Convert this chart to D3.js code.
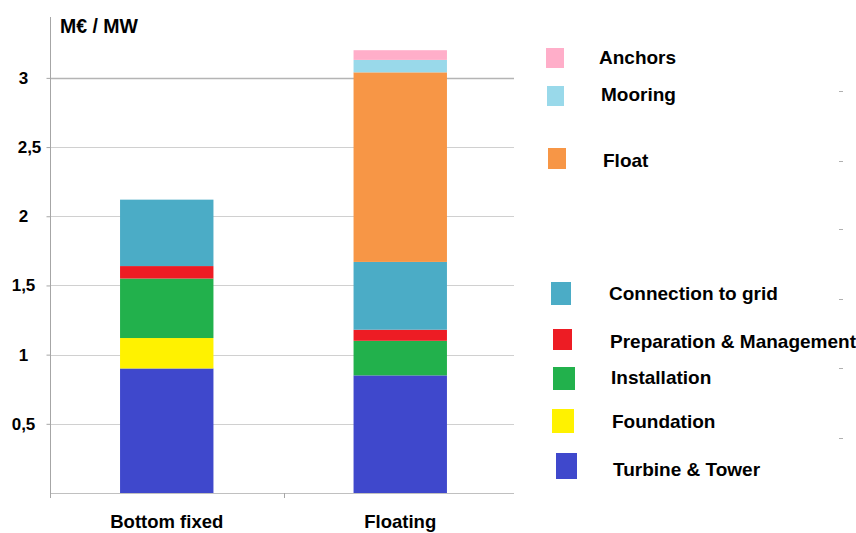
<!DOCTYPE html>
<html>
<head>
<meta charset="utf-8">
<script src="https://cdn.jsdelivr.net/npm/d3@7"></script>
<style>
  html, body { margin: 0; padding: 0; background: #fff; }
  svg { display: block; font-family: "Liberation Sans", Arial, sans-serif; }
</style>
</head>
<body>
<svg id="chart" width="856" height="533"></svg>
<script>
// Cost breakdown per concept, in M€ per MW
const categories = ["Bottom fixed", "Floating"];
const components = ["Turbine & Tower", "Foundation", "Installation", "Preparation & Management",
                    "Connection to grid", "Float", "Mooring", "Anchors"];
const turbineTower   = [0.90, 0.85];
const foundation     = [0.22, 0.00];
const installation   = [0.43, 0.25];
const preparation    = [0.09, 0.08];
const connectionGrid = [0.48, 0.49];
const floatCost      = [0.00, 1.37];
const mooring        = [0.00, 0.09];
const anchors        = [0.00, 0.07];
const yTicks = [0.5, 1, 1.5, 2, 2.5, 3];
const unitLabel = "M€ / MW";

const colors = ["#3f48cc", "#fff200", "#22b14c", "#ed1c24", "#4bacc6", "#f79646", "#99d9ea", "#ffaec9"];
const seriesValues = [turbineTower, foundation, installation, preparation, connectionGrid, floatCost, mooring, anchors];

const rows = categories.map((c, i) => {
  const r = { category: c };
  components.forEach((k, j) => { r[k] = seriesValues[j][i]; });
  return r;
});

const svg = d3.select("#chart");
const x = d3.scaleBand().domain(categories).range([50, 517]).paddingInner(0.6).paddingOuter(0.3);
const y = d3.scaleLinear().domain([0, 3.44]).range([493, 17]);
const color = d3.scaleOrdinal().domain(components).range(colors);

// Gridlines
svg.append("g").selectAll("line").data(yTicks).join("line")
  .attr("x1", 50).attr("x2", 514)
  .attr("y1", d => Math.round(y(d)) + 0.5).attr("y2", d => Math.round(y(d)) + 0.5)
  .attr("stroke", d => d === 3 ? "#b4b4b4" : "#d0d0d0").attr("stroke-width", d => d === 3 ? 1.5 : 1);

// Stacked bars
const stacked = d3.stack().keys(components)(rows);
svg.append("g").selectAll("g").data(stacked).join("g")
  .attr("fill", d => color(d.key))
  .selectAll("rect").data(d => d).join("rect")
  .attr("x", d => x(d.data.category))
  .attr("width", x.bandwidth())
  .attr("y", d => y(d[1]))
  .attr("height", d => Math.max(0, y(d[0]) - y(d[1])));

// Y axis
const fmt = d => String(d).replace(".", ",");
const yAxis = svg.append("g").attr("transform", "translate(50.5,0)")
  .call(d3.axisLeft(y).tickValues(yTicks).tickSize(4).tickPadding(0).tickFormat(fmt));
yAxis.select(".domain").remove();
yAxis.selectAll(".tick line").attr("stroke", "#a6a6a6");
yAxis.selectAll(".tick text")
  .attr("x", d => d === 2.5 ? -21 : -27)
  .attr("text-anchor", "middle")
  .attr("font-size", 17).attr("font-weight", "bold").attr("fill", "#000")
  .attr("font-family", "'Liberation Sans', Arial, sans-serif");
svg.append("line").attr("x1", 50.5).attr("x2", 50.5).attr("y1", 17).attr("y2", 498)
  .attr("stroke", "#a6a6a6");

// X axis baseline and band ticks
const xAxis = svg.append("g").attr("transform", `translate(0,${Math.round(y(0)) + 0.5})`)
  .call(d3.axisBottom(x).tickSize(0).tickFormat(""));
xAxis.select(".domain").attr("stroke", "#c0c0c0").attr("d", "M50,0H514");
const gap = (x.step() - x.bandwidth()) / 2;
const bandEdges = [x.range()[0], x(categories[1]) - gap];
svg.append("g").selectAll("line").data(bandEdges).join("line")
  .attr("x1", d => Math.round(d) + 0.5).attr("x2", d => Math.round(d) + 0.5)
  .attr("y1", y(0)).attr("y2", y(0) + 5).attr("stroke", "#a6a6a6");

// Category labels
svg.append("g").selectAll("text").data(categories).join("text")
  .attr("x", d => x(d) + x.bandwidth() / 2)
  .attr("y", 528)
  .attr("text-anchor", "middle")
  .attr("font-size", 18.5).attr("font-weight", "bold").attr("fill", "#000")
  .text(d => d);

// Unit label
svg.append("text").attr("x", 60).attr("y", 33)
  .attr("font-size", 19.5).attr("font-weight", "bold").attr("fill", "#000")
  .text(unitLabel);

// Faint ticks at the right margin
const rightTicks = [91, 161, 229, 299, 368, 438];
svg.append("g").selectAll("line").data(rightTicks).join("line")
  .attr("x1", 839).attr("x2", 843).attr("y1", d => d + 0.5).attr("y2", d => d + 0.5)
  .attr("stroke", "#b0b0b0");

// Legend (top to bottom: floating-only parts, then shared parts)
const legendLayout = [
  { key: "Anchors",                  sx: 546, sy: 48,  sw: 18, sh: 20, tx: 599, ty: 57 },
  { key: "Mooring",                  sx: 547, sy: 86,  sw: 17, sh: 20, tx: 601, ty: 94 },
  { key: "Float",                    sx: 548, sy: 148, sw: 18, sh: 21, tx: 603, ty: 160 },
  { key: "Connection to grid",       sx: 551, sy: 282, sw: 20, sh: 23, tx: 609, ty: 293 },
  { key: "Preparation & Management", sx: 553, sy: 329, sw: 19, sh: 21, tx: 610, ty: 341 },
  { key: "Installation",             sx: 553, sy: 367, sw: 22, sh: 23, tx: 611, ty: 377 },
  { key: "Foundation",               sx: 552, sy: 409, sw: 22, sh: 24, tx: 612, ty: 421 },
  { key: "Turbine & Tower",          sx: 556, sy: 453, sw: 21, sh: 26, tx: 613, ty: 469 }
];
const legend = svg.append("g").selectAll("g").data(legendLayout).join("g");
legend.append("rect")
  .attr("x", d => d.sx).attr("y", d => d.sy).attr("width", d => d.sw).attr("height", d => d.sh)
  .attr("fill", d => color(d.key));
legend.append("text")
  .attr("x", d => d.tx).attr("y", d => d.ty).attr("dy", "0.35em")
  .attr("font-size", 19).attr("font-weight", "bold").attr("fill", "#000")
  .text(d => d.key);
</script>
</body>
</html>
